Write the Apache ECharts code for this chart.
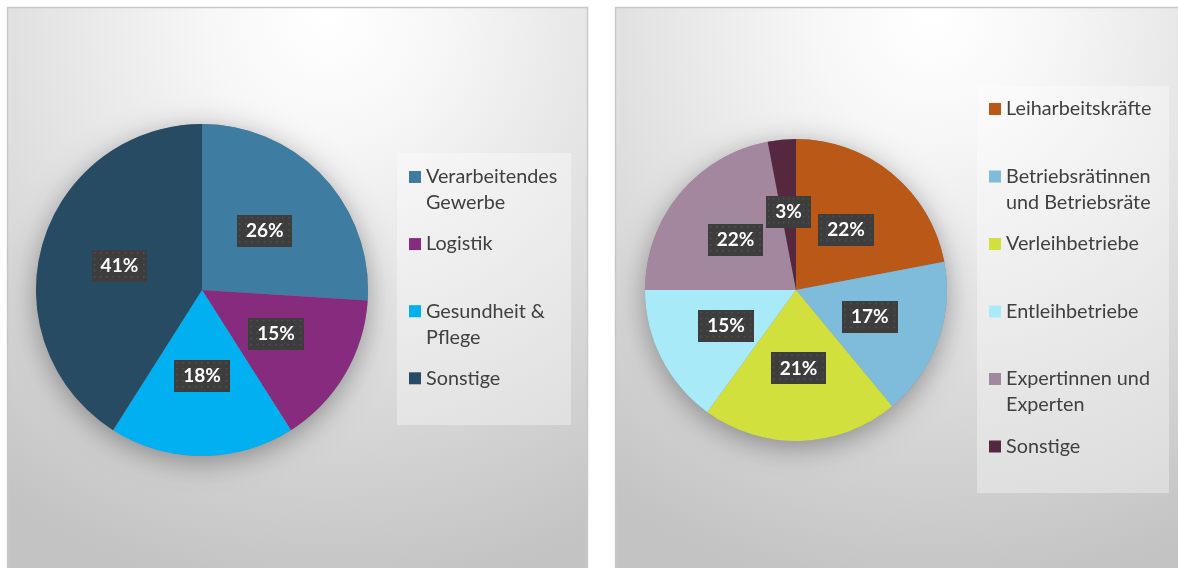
<!DOCTYPE html>
<html>
<head>
<meta charset="utf-8">
<style>
html,body{margin:0;padding:0;background:#ffffff;}
#chart{width:1178px;height:568px;}
</style>
<script src="https://cdn.jsdelivr.net/npm/echarts@6/dist/echarts.min.js"></script>
</head>
<body>
<div id="chart"></div>
<script>
// ---- data ----
var leftNames = ['Verarbeitendes Gewerbe', 'Logistik', 'Gesundheit & Pflege', 'Sonstige'];
var leftLegendLines = [['Verarbeitendes', 'Gewerbe'], ['Logistik'], ['Gesundheit &', 'Pflege'], ['Sonstige']];
var leftValues = [26, 15, 18, 41];
var leftColors = ['#3F7CA2', '#872B7E', '#00B0F0', '#264B63'];

var rightNames = ['Leiharbeitskräfte', 'Betriebsrätinnen und Betriebsräte', 'Verleihbetriebe', 'Entleihbetriebe', 'Expertinnen und Experten', 'Sonstige '];
var rightLegendLines = [['Leiharbeitskräfte'], ['Betriebsrätinnen', 'und Betriebsräte'], ['Verleihbetriebe'], ['Entleihbetriebe'], ['Expertinnen und', 'Experten'], ['Sonstige']];
var rightValues = [22, 17, 21, 15, 22, 3];
var rightColors = ['#BA5818', '#7FBCDB', '#D2E03E', '#A8EAF7', '#A3879F', '#55283F'];

// ---- label background pattern ----
function makePattern() {
  var c = document.createElement('canvas');
  c.width = 54; c.height = 32;
  var g = c.getContext('2d');
  g.fillStyle = '#3d3d3d';
  g.fillRect(0, 0, 54, 32);
  g.fillStyle = '#555555';
  for (var y = 2; y < 32; y += 6) {
    for (var x = 2; x < 54; x += 6) {
      g.fillRect(x, y, 1.5, 1.5);
    }
  }
  return c.toDataURL();
}
var pattern = makePattern();

var FONT = 'Lato, "Open Sans", sans-serif';
var LEG_SIZE = 19.8;

function buildRich(colors) {
  var rich = {
    t: { fontSize: LEG_SIZE, color: '#404040', fontFamily: FONT, lineHeight: 26, padding: [0, 0, 0, 5] },
    t2: { fontSize: LEG_SIZE, color: '#404040', fontFamily: FONT, lineHeight: 26, padding: [0, 0, 0, 17] }
  };
  colors.forEach(function (c, i) {
    rich['m' + i] = { width: 12, height: 12, backgroundColor: c, lineHeight: 26 };
  });
  return rich;
}
function buildFormatter(names, lines) {
  return function (name) {
    var i = names.indexOf(name);
    var l = lines[i];
    var s = '{m' + i + '|}{t|' + l[0] + '}\n';
    s += '{t2|' + (l[1] || ' ') + '}';
    return s;
  };
}

function labelCfg() {
  return {
    show: true,
    position: 'inside',
    formatter: '{c}%',
    color: '#ffffff',
    fontFamily: FONT,
    fontWeight: 'bold',
    fontSize: 19,
    lineHeight: 20,
    padding: [6, 9, 6, 9],
    align: 'center',
    verticalAlign: 'middle',
    backgroundColor: { image: pattern },
    shadowColor: 'rgba(0,0,0,0.55)',
    shadowBlur: 6,
    shadowOffsetX: 3,
    shadowOffsetY: 3
  };
}

function panelFill() {
  return new echarts.graphic.RadialGradient(0.55, 0.02, 1.0, [
    { offset: 0, color: '#ffffff' },
    { offset: 0.2, color: '#f7f7f7' },
    { offset: 1, color: '#c3c3c3' }
  ]);
}

var chart = echarts.init(document.getElementById('chart'), null, { renderer: 'canvas' });

var option = {
  animation: false,
  backgroundColor: '#ffffff',
  graphic: [
    { type: 'rect', z: -10, shape: { x: 7.5, y: 7.5, width: 580, height: 575 },
      style: { fill: panelFill(), stroke: '#c9c9c9', lineWidth: 1.5 } },
    { type: 'rect', z: -10, shape: { x: 615.5, y: 7.5, width: 575, height: 575 },
      style: { fill: panelFill(), stroke: '#c9c9c9', lineWidth: 1.5 } },
    { type: 'rect', z: -9, shape: { x: 397, y: 153, width: 174, height: 272 },
      style: { fill: 'rgba(255,255,255,0.35)' } },
    { type: 'rect', z: -9, shape: { x: 977, y: 86, width: 192, height: 407 },
      style: { fill: 'rgba(255,255,255,0.35)' } }
  ],
  legend: [
    {
      data: leftNames,
      orient: 'vertical',
      left: 404,
      top: 167,
      padding: 0,
      itemGap: 21.1,
      itemWidth: 0,
      itemHeight: 0,
      icon: 'rect',
      selectedMode: false,
      formatter: buildFormatter(leftNames, leftLegendLines),
      textStyle: { rich: buildRich(leftColors) }
    },
    {
      data: rightNames,
      orient: 'vertical',
      left: 984,
      top: 99,
      padding: 0,
      itemGap: 21.5,
      itemWidth: 0,
      itemHeight: 0,
      icon: 'rect',
      selectedMode: false,
      formatter: buildFormatter(rightNames, rightLegendLines),
      textStyle: { rich: buildRich(rightColors) }
    }
  ],
  series: [
    {
      type: 'pie', name: 'shadowL', silent: true, z: 1,
      center: [202, 290], radius: 166,
      label: { show: false }, labelLine: { show: false },
      itemStyle: { color: '#8a8a8a', shadowBlur: 28, shadowOffsetY: 6, shadowColor: 'rgba(0,0,0,0.35)' },
      data: [{ value: 1, name: '__shadowL' }]
    },
    {
      type: 'pie', name: 'shadowR', silent: true, z: 1,
      center: [796, 290], radius: 151,
      label: { show: false }, labelLine: { show: false },
      itemStyle: { color: '#8a8a8a', shadowBlur: 28, shadowOffsetY: 6, shadowColor: 'rgba(0,0,0,0.35)' },
      data: [{ value: 1, name: '__shadowR' }]
    },
    {
      type: 'pie', name: 'Branchen', z: 2,
      center: [202, 290], radius: 166,
      startAngle: 90, clockwise: true,
      avoidLabelOverlap: false,
      labelLayout: { hideOverlap: false },
      color: leftColors,
      label: labelCfg(),
      labelLine: { show: false },
      emphasis: { disabled: true },
      data: leftNames.map(function (n, i) { return { name: n, value: leftValues[i] }; })
    },
    {
      type: 'pie', name: 'Akteure', z: 2,
      center: [796, 290], radius: 151,
      startAngle: 90, clockwise: true,
      avoidLabelOverlap: false,
      labelLayout: { hideOverlap: false },
      color: rightColors,
      label: labelCfg(),
      labelLine: { show: false },
      emphasis: { disabled: true },
      data: rightNames.map(function (n, i) { return { name: n, value: rightValues[i] }; })
    }
  ]
};
chart.setOption(option);
</script>
</body>
</html>
